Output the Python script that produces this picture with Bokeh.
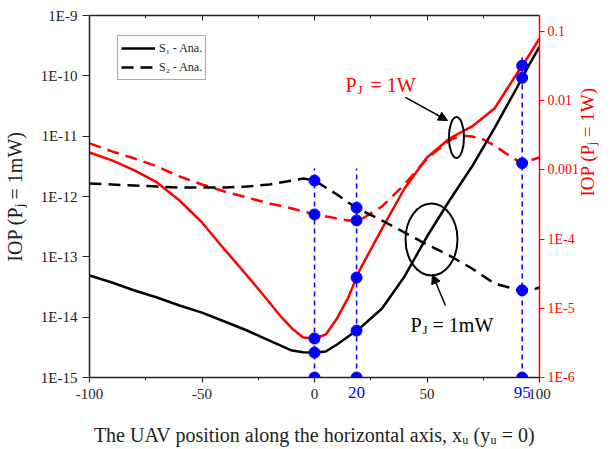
import numpy as np
from bokeh.plotting import figure
from bokeh.models import (Range1d, LogScale, LogAxis, LinearAxis, FixedTicker,
                          CustomJSTickFormatter, Label, Arrow, NormalHead, Legend, LegendItem)
from bokeh.embed import file_html
from bokeh.resources import INLINE

# ---------------- data ----------------
# S1 analytical, P_J = 1 mW (left axis)
x_s1_mw = [-100, -90, -80, -70, -60, -50, -40, -30, -20, -10, -5, 0, 5, 10, 20, 30, 40, 50, 60, 70, 80, 90, 95, 100]
iop_s1_mw = [4.90e-14, 3.75e-14, 2.77e-14, 2.12e-14, 1.56e-14, 1.19e-14, 8.47e-15, 6.01e-15, 4.10e-15, 2.80e-15,
             2.62e-15, 2.59e-15, 2.70e-15, 3.52e-15, 6.49e-15, 1.39e-14, 4.72e-14, 2.17e-13, 8.59e-13, 3.14e-12,
             1.36e-11, 6.41e-11, 1.43e-10, 3.06e-10]
# S2 analytical, P_J = 1 mW (left axis)
x_s2_mw = [-100, -90, -80, -70, -60, -50, -40, -30, -20, -10, -5, 0, 5, 10, 15, 20, 30, 40, 50, 60, 70, 80, 90, 95, 100]
iop_s2_mw = [1.64e-12, 1.58e-12, 1.52e-12, 1.46e-12, 1.41e-12, 1.41e-12, 1.41e-12, 1.46e-12, 1.58e-12, 1.84e-12,
             1.99e-12, 1.84e-12, 1.41e-12, 1.08e-12, 7.95e-13, 6.08e-13, 4.00e-13, 2.53e-13, 1.60e-13, 1.05e-13,
             6.40e-14, 3.61e-14, 2.86e-14, 2.70e-14, 3.10e-14]
# S1 analytical, P_J = 1 W (right axis)
x_s1_w = [-100, -90, -80, -70, -60, -50, -40, -30, -20, -15, -10, -5, 0, 5, 10, 15, 20, 30, 40, 50, 60, 70, 80, 90, 95, 100]
iop_s1_w = [1.78e-3, 1.37e-3, 9.80e-4, 6.58e-4, 3.61e-4, 1.74e-4, 7.08e-5, 2.98e-5, 1.21e-5, 7.62e-6, 5.11e-6,
            3.78e-6, 3.66e-6, 4.18e-6, 7.13e-6, 1.43e-5, 3.52e-5, 1.42e-4, 5.38e-4, 1.51e-3, 2.84e-3, 4.24e-3,
            7.71e-3, 2.47e-2, 4.35e-2, 7.92e-2]
# S2 analytical, P_J = 1 W (right axis)
x_s2_w = [-100, -90, -80, -70, -60, -50, -40, -30, -20, -10, 0, 10, 15, 20, 30, 40, 50, 60, 65, 70, 75, 80, 85, 90, 92, 96, 100]
iop_s2_w = [2.41e-3, 1.85e-3, 1.46e-3, 1.12e-3, 8.03e-4, 6.15e-4, 4.88e-4, 3.99e-4, 3.27e-4, 2.77e-4, 2.27e-4,
            1.99e-4, 1.86e-4, 1.86e-4, 2.96e-4, 6.15e-4, 1.46e-3, 2.66e-3, 3.14e-3, 3.04e-3, 2.75e-3, 2.25e-3,
            1.73e-3, 1.37e-3, 1.24e-3, 1.37e-3, 1.51e-3]

# marked UAV positions (blue guides) and their labels
mark_x = [0, 18.7, 92.3]
mark_text = ["0", "20", "95"]
guide_top = [2.91e-12, 2.91e-12, 2.34e-10]

x_ticks = [-100, -50, 0, 50, 100]
x_minor = [-75, -25, 25, 75]
left_ticks = [1e-15, 1e-14, 1e-13, 1e-12, 1e-11, 1e-10, 1e-9]
right_ticks = [1e-6, 1e-5, 1e-4, 1e-3, 1e-2, 1e-1]

x_title = "The UAV position along the horizontal axis, x\u1d64 (y\u1d64 = 0)"
left_title = "IOP (P\u2c7c = 1mW)"
right_title = "IOP (P\u2c7c = 1W)"

SERIF = "Liberation Serif"
RED = "#ff0000"
BLUE = "#0000ff"
INK = "#222222"


def at_marks(xs, ys):
    return list(10 ** np.interp(mark_x, xs, np.log10(ys)))


p = figure(width=612, height=449, x_range=Range1d(-100, 100), y_range=Range1d(1e-15, 1e-9),
           y_axis_type="log", output_backend="svg", toolbar_location=None,
           min_border_left=89, min_border_right=73, min_border_top=15, min_border_bottom=72)
p.extra_y_ranges = {"right": Range1d(1e-6, 0.170)}
p.extra_y_scales = {"right": LogScale()}
p.outline_line_color = None
p.xgrid.visible = False
p.ygrid.visible = False
p.background_fill_color = "white"
p.border_fill_color = "white"

# ---------------- axes ----------------
xa = p.xaxis[0]
xa.ticker = FixedTicker(ticks=x_ticks, minor_ticks=x_minor)
xa.formatter = CustomJSTickFormatter(code="return String(tick);")
xa.major_tick_out = 5
xa.major_tick_in = 0
xa.minor_tick_out = 3
xa.minor_tick_in = 0
xa.axis_line_width = 1.5
xa.axis_line_color = INK
xa.major_tick_line_color = INK
xa.minor_tick_line_color = INK
xa.major_tick_line_width = 1.2
xa.major_label_text_font = SERIF
xa.major_label_text_font_size = "15px"
xa.major_label_text_color = INK
xa.major_label_standoff = 6

# second bottom axis: blue labels of the marked positions + axis title
ba = LinearAxis(ticker=FixedTicker(ticks=mark_x[1:], minor_ticks=[]),
                formatter=CustomJSTickFormatter(args=dict(xs=mark_x[1:], names=mark_text[1:]), code="""
const i = xs.indexOf(tick);
return i >= 0 ? names[i] : '';"""))
ba.axis_line_color = None
ba.major_tick_line_color = None
ba.minor_tick_line_color = None
ba.major_tick_out = 0
ba.major_tick_in = 0
ba.minor_tick_out = 0
ba.minor_tick_in = 0
ba.major_label_standoff = -15
ba.major_label_text_font = SERIF
ba.major_label_text_font_size = "17px"
ba.major_label_text_color = BLUE
ba.axis_label = x_title
ba.axis_label_text_font = SERIF
ba.axis_label_text_font_size = "20px"
ba.axis_label_text_font_style = "normal"
ba.axis_label_text_color = INK
ba.axis_label_standoff = 23
p.add_layout(ba, "below")

ya = p.yaxis[0]
ya.ticker = FixedTicker(ticks=left_ticks, minor_ticks=[])
ya.formatter = CustomJSTickFormatter(code="return '1E' + Math.round(Math.log10(tick));")
ya.major_tick_out = 7
ya.major_tick_in = 0
ya.axis_line_width = 1.5
ya.axis_line_color = INK
ya.major_tick_line_color = INK
ya.major_tick_line_width = 1.2
ya.major_label_text_font = SERIF
ya.major_label_text_font_size = "15px"
ya.major_label_text_color = INK
ya.major_label_standoff = 5
ya.axis_label = left_title
ya.axis_label_text_font = SERIF
ya.axis_label_text_font_size = "20px"
ya.axis_label_text_font_style = "normal"
ya.axis_label_text_color = INK
ya.axis_label_standoff = 12

top = LinearAxis(ticker=FixedTicker(ticks=x_ticks, minor_ticks=x_minor),
                 formatter=CustomJSTickFormatter(code="return '';"))
top.major_label_text_font_size = "0px"
top.major_label_standoff = 0
top.major_tick_in = 5
top.major_tick_out = 0
top.minor_tick_in = 3
top.minor_tick_out = 0
top.axis_line_width = 1.5
top.axis_line_color = INK
top.major_tick_line_color = INK
top.minor_tick_line_color = INK
p.add_layout(top, "above")

ra = LogAxis(y_range_name="right", ticker=FixedTicker(ticks=right_ticks, minor_ticks=[]),
             formatter=CustomJSTickFormatter(code="""
const e = Math.round(Math.log10(tick));
if (e >= -3) { return tick.toFixed(-e); }
return '1E' + e;"""))
ra.major_tick_out = 5
ra.major_tick_in = 0
ra.axis_line_width = 1.5
ra.axis_line_color = RED
ra.major_tick_line_color = RED
ra.major_tick_line_width = 1.2
ra.major_label_text_font = SERIF
ra.major_label_text_font_size = "14px"
ra.major_label_text_color = RED
ra.major_label_standoff = 3
ra.axis_label = right_title
ra.axis_label_orientation = np.pi / 2
ra.axis_label_text_font = SERIF
ra.axis_label_text_font_size = "19px"
ra.axis_label_text_line_height = 0.9
ra.axis_label_text_font_style = "normal"
ra.axis_label_text_color = RED
ra.axis_label_standoff = 5
p.add_layout(ra, "right")

# ---------------- curves ----------------
r_s2w = p.line(x_s2_w, iop_s2_w, y_range_name="right", line_color=RED, line_width=2.5, line_dash="12 7")
r_s1w = p.line(x_s1_w, iop_s1_w, y_range_name="right", line_color=RED, line_width=2.5)
r_s2 = p.line(x_s2_mw, iop_s2_mw, line_color="black", line_width=2.5, line_dash="12 7")
r_s1 = p.line(x_s1_mw, iop_s1_mw, line_color="black", line_width=2.5)

# blue guides and markers
p.segment(x0=mark_x, y0=[1e-15] * 3, x1=mark_x, y1=guide_top, line_color=BLUE, line_width=1.5, line_dash="5 4")
dot_style = dict(size=11, fill_color=BLUE, line_color=BLUE, marker="circle")
p.scatter(mark_x, [1e-15] * 3, **dot_style)
p.scatter(mark_x, at_marks(x_s1_mw, iop_s1_mw), **dot_style)
p.scatter(mark_x, at_marks(x_s2_mw, iop_s2_mw), **dot_style)
p.scatter(mark_x, at_marks(x_s1_w, iop_s1_w), y_range_name="right", **dot_style)
p.scatter(mark_x, at_marks(x_s2_w, iop_s2_w), y_range_name="right", **dot_style)

# ---------------- annotations ----------------
p.ellipse(x=[63.1, 52.0], y=[9.51e-12, 1.94e-13], width=[15, 52], height=[41, 72],
          width_units="screen", height_units="screen", fill_color=None, line_color="black", line_width=2)

p.add_layout(Arrow(end=NormalHead(size=9, fill_color="black", line_color="black"),
                   x_start=40.4, y_start=4.38e-11, x_end=59.1, y_end=1.82e-11, line_width=1.5))
p.add_layout(Arrow(end=NormalHead(size=9, fill_color="black", line_color="black"),
                   x_start=58.2, y_start=1.56e-14, x_end=52.4, y_end=5.09e-14, line_width=1.5))


def pj_label(x, y, rest, color, rest_off):
    common = dict(x=x, y=y, text_color=color, text_font=SERIF, text_baseline="alphabetic")
    p.add_layout(Label(text="P", text_font_size="20px", **common))
    p.add_layout(Label(text="J", x_offset=12, y_offset=-5, text_font_size="13px", **common))
    p.add_layout(Label(text=rest, x_offset=rest_off, text_font_size="20px", **common))


pj_label(13.8, 7.18e-11, "= 1W", RED, 25)
pj_label(42.7, 7.55e-15, "= 1mW", "black", 22)

legend = Legend(items=[LegendItem(label="S\u2081 - Ana.", renderers=[r_s1]),
                       LegendItem(label="S\u2082 - Ana.", renderers=[r_s2])],
                location=(28, 297), orientation="vertical",
                glyph_width=34, glyph_height=18, label_height=18, label_standoff=4,
                padding=3, spacing=1, margin=0,
                label_text_font=SERIF, label_text_font_size="12px", label_text_color=INK,
                border_line_color="#555555", border_line_width=1, background_fill_alpha=1)
p.add_layout(legend)

open("out.html", "w").write(file_html(p, INLINE))
